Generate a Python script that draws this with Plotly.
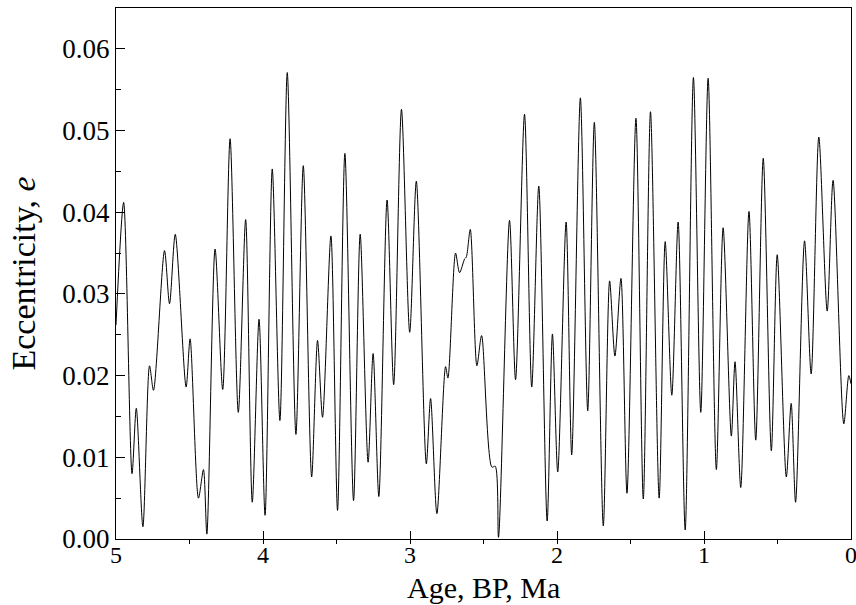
import plotly.graph_objects as go

# Age (Ma BP) and eccentricity (extrema and shoulders)
age = [5.000, 4.948, 4.891, 4.862, 4.817, 4.772, 4.745, 4.670, 4.636, 4.597,
       4.523, 4.496, 4.439, 4.405, 4.382, 4.326, 4.274, 4.224, 4.168, 4.118,
       4.073, 4.027, 3.986, 3.937, 3.885, 3.835, 3.776, 3.726, 3.669, 3.629,
       3.595, 3.538, 3.493, 3.443, 3.384, 3.339, 3.285, 3.251, 3.212, 3.156,
       3.111, 3.058, 3.002, 2.957, 2.889, 2.860, 2.817, 2.758, 2.742, 2.690,
       2.663, 2.628, 2.617, 2.590, 2.545, 2.513, 2.443, 2.420, 2.398, 2.323,
       2.282, 2.221, 2.172, 2.124, 2.067, 2.031, 1.995, 1.938, 1.900, 1.841,
       1.791, 1.746, 1.685, 1.642, 1.606, 1.565, 1.524, 1.463, 1.413, 1.364,
       1.305, 1.264, 1.219, 1.176, 1.128, 1.072, 1.022, 0.972, 0.916, 0.870,
       0.814, 0.789, 0.750, 0.694, 0.648, 0.597, 0.542, 0.502, 0.440, 0.407,
       0.377, 0.316, 0.271, 0.219, 0.162, 0.122, 0.049, 0.015, 0.000]
ecc = [0.0262, 0.0412, 0.0080, 0.0160, 0.0015, 0.0212, 0.0182, 0.0353, 0.0288, 0.0373,
       0.0186, 0.0245, 0.0050, 0.0085, 0.0006, 0.0355, 0.0183, 0.0490, 0.0155, 0.0391,
       0.0045, 0.0269, 0.0029, 0.0453, 0.0145, 0.0571, 0.0128, 0.0457, 0.0076, 0.0243,
       0.0149, 0.0371, 0.0035, 0.0472, 0.0047, 0.0373, 0.0094, 0.0227, 0.0052, 0.0415,
       0.0189, 0.0526, 0.0253, 0.0438, 0.0092, 0.0172, 0.0031, 0.0211, 0.0197, 0.0350,
       0.0326, 0.0343, 0.0345, 0.0379, 0.0212, 0.0249, 0.0088, 0.0089, 0.0002, 0.0390,
       0.0195, 0.0520, 0.0186, 0.0432, 0.0022, 0.0251, 0.0082, 0.0388, 0.0103, 0.0540,
       0.0157, 0.0510, 0.0016, 0.0316, 0.0224, 0.0319, 0.0056, 0.0515, 0.0049, 0.0523,
       0.0050, 0.0364, 0.0176, 0.0388, 0.0011, 0.0565, 0.0155, 0.0564, 0.0085, 0.0381,
       0.0126, 0.0217, 0.0063, 0.0401, 0.0121, 0.0466, 0.0108, 0.0348, 0.0076, 0.0166,
       0.0045, 0.0365, 0.0202, 0.0492, 0.0279, 0.0439, 0.0141, 0.0200, 0.0190]

x_ticks = [5, 4, 3, 2, 1, 0]
y_ticks = [0.00, 0.01, 0.02, 0.03, 0.04, 0.05, 0.06]
x_title = "Age, BP, Ma"
y_title = "Eccentricity, <i>e</i>"

FONT = "Liberation Serif"

fig = go.Figure()
fig.add_trace(go.Scatter(
    x=age, y=ecc, mode="lines",
    line=dict(color="black", width=1, shape="spline", smoothing=0.8),
    showlegend=False,
))

fig.update_layout(
    width=856, height=605,
    margin=dict(l=116, r=5, t=8, b=66, autoexpand=False),
    paper_bgcolor="white", plot_bgcolor="white",
    font=dict(family=FONT, color="black"),
)
fig.update_xaxes(
    range=[5, 0], tickvals=x_ticks, ticktext=[str(v) for v in x_ticks],
    ticks="inside", ticklen=8, tickwidth=1.2, tickcolor="black",
    minor=dict(dtick=0.5, ticks="outside", ticklen=4, tickwidth=1, tickcolor="black"),
    showline=True, linecolor="black", linewidth=1.3, mirror=True,
    showgrid=False, zeroline=False, automargin=False, ticklabeloverflow="allow",
    tickfont=dict(size=24, family=FONT), ticklabelstandoff=-6,
)
fig.update_yaxes(
    range=[0, 0.065], tickvals=y_ticks, ticktext=[f"{v:.2f}" for v in y_ticks],
    ticks="inside", ticklen=9, tickwidth=1.2, tickcolor="black",
    minor=dict(dtick=0.005, ticks="inside", ticklen=5, tickwidth=1, tickcolor="black"),
    showline=True, linecolor="black", linewidth=1.3, mirror=True,
    showgrid=False, zeroline=False, automargin=False,
    tickfont=dict(size=27, family=FONT),
    title=dict(text=y_title, font=dict(size=34, family=FONT), standoff=16),
)
# x-axis title as an annotation just below the tick labels
fig.add_annotation(
    text=x_title, xref="paper", yref="paper", x=0.5, y=-0.0584,
    xanchor="center", yanchor="top", showarrow=False, borderpad=0,
    font=dict(size=30, family=FONT, color="black"),
)

fig.write_html("out.html")
